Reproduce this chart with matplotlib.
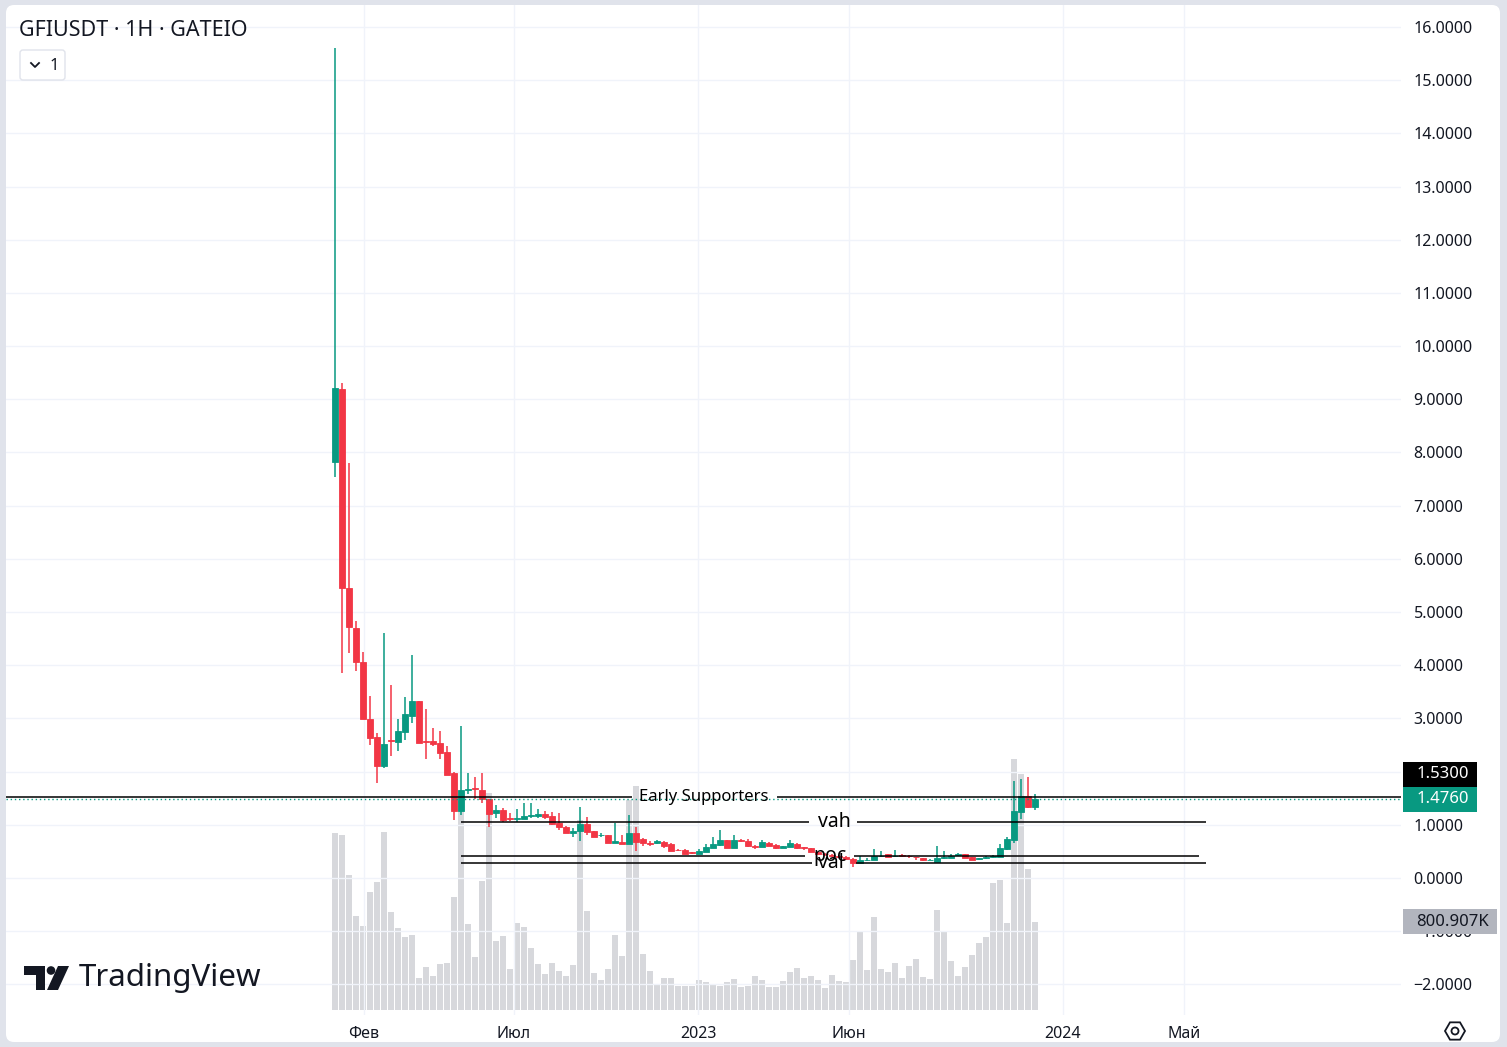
#!/usr/bin/env python3

import datetime as dt
import matplotlib
matplotlib.use("Agg")
import matplotlib.pyplot as plt
import matplotlib.dates as mdates
from matplotlib.patches import FancyBboxPatch, RegularPolygon, Circle, Polygon, Rectangle
import numpy as np

plt.rcParams['font.family'] = ['Noto Sans', 'DejaVu Sans']

# weekly candles, first week starting 2022-01-03
first_week = dt.date(2022, 1, 3)
opens = [7.82, 9.19, 5.45, 4.70, 4.06, 2.99, 2.65, 2.11, 2.60, 2.56,
         2.74, 3.05, 3.33, 2.58, 2.58, 2.54, 2.37, 1.97, 1.26, 1.66,
         1.69, 1.65, 1.49, 1.22, 1.28, 1.12, 1.10, 1.11, 1.17, 1.17,
         1.20, 1.17, 1.03, 0.95, 0.84, 0.88, 1.02, 0.88, 0.80, 0.81,
         0.65, 0.68, 0.63, 0.84, 0.73, 0.66, 0.66, 0.68, 0.64, 0.53,
         0.53, 0.48, 0.46, 0.49, 0.56, 0.62, 0.71, 0.56, 0.71, 0.70,
         0.61, 0.58, 0.66, 0.62, 0.56, 0.59, 0.64, 0.58, 0.56, 0.48,
         0.46, 0.44, 0.42, 0.39, 0.36, 0.29, 0.33, 0.33, 0.41, 0.45,
         0.41, 0.43, 0.42, 0.40, 0.37, 0.34, 0.31, 0.38, 0.38, 0.43,
         0.46, 0.39, 0.35, 0.37, 0.39, 0.40, 0.55, 0.71, 1.25, 1.54,
         1.34]
highs = [15.60, 9.31, 7.80, 4.83, 4.25, 3.42, 2.73, 4.61, 3.63, 2.99,
         3.40, 4.19, 3.33, 3.18, 2.82, 2.76, 2.48, 1.99, 2.86, 1.97,
         1.90, 1.97, 1.49, 1.37, 1.31, 1.22, 1.30, 1.41, 1.41, 1.30,
         1.26, 1.24, 1.22, 0.98, 0.94, 1.34, 1.14, 0.89, 0.85, 0.81,
         1.04, 0.81, 1.18, 0.95, 0.76, 0.69, 0.72, 0.69, 0.65, 0.55,
         0.54, 0.49, 0.55, 0.64, 0.77, 0.90, 0.71, 0.80, 0.74, 0.74,
         0.62, 0.72, 0.68, 0.64, 0.61, 0.72, 0.66, 0.58, 0.57, 0.49,
         0.47, 0.45, 0.44, 0.42, 0.37, 0.42, 0.38, 0.55, 0.50, 0.45,
         0.52, 0.45, 0.44, 0.40, 0.38, 0.35, 0.60, 0.51, 0.45, 0.47,
         0.46, 0.39, 0.38, 0.41, 0.44, 0.64, 0.78, 1.83, 1.86, 1.89,
         1.58]
lows = [7.54, 3.85, 4.23, 3.89, 2.99, 2.50, 1.79, 2.07, 2.29, 2.39,
        2.59, 2.91, 2.54, 2.24, 2.48, 2.24, 1.94, 1.09, 1.18, 1.58,
        1.49, 1.41, 0.96, 1.13, 1.05, 1.07, 1.05, 1.11, 1.13, 1.12,
        1.11, 1.00, 0.90, 0.84, 0.78, 0.70, 0.81, 0.77, 0.77, 0.65,
        0.65, 0.63, 0.63, 0.50, 0.60, 0.60, 0.64, 0.56, 0.51, 0.51,
        0.46, 0.46, 0.46, 0.49, 0.56, 0.60, 0.56, 0.56, 0.67, 0.58,
        0.54, 0.58, 0.60, 0.55, 0.56, 0.59, 0.54, 0.52, 0.49, 0.44,
        0.42, 0.39, 0.38, 0.34, 0.21, 0.28, 0.32, 0.33, 0.40, 0.40,
        0.39, 0.40, 0.38, 0.33, 0.32, 0.33, 0.31, 0.36, 0.37, 0.42,
        0.37, 0.34, 0.33, 0.36, 0.37, 0.40, 0.53, 0.65, 1.11, 1.32,
        1.27]
closes = [9.21, 5.45, 4.72, 4.06, 2.99, 2.63, 2.11, 2.52, 2.57, 2.76,
          3.08, 3.33, 2.54, 2.56, 2.52, 2.35, 1.94, 1.26, 1.65, 1.68,
          1.67, 1.49, 1.20, 1.28, 1.09, 1.11, 1.12, 1.17, 1.19, 1.20,
          1.15, 1.02, 0.96, 0.84, 0.89, 1.02, 0.86, 0.78, 0.81, 0.65,
          0.70, 0.63, 0.84, 0.68, 0.65, 0.63, 0.70, 0.60, 0.51, 0.52,
          0.46, 0.47, 0.51, 0.58, 0.64, 0.71, 0.56, 0.71, 0.70, 0.60,
          0.58, 0.68, 0.60, 0.57, 0.61, 0.65, 0.56, 0.57, 0.49, 0.46,
          0.45, 0.41, 0.40, 0.35, 0.29, 0.34, 0.34, 0.41, 0.42, 0.40,
          0.42, 0.42, 0.41, 0.39, 0.33, 0.34, 0.37, 0.39, 0.42, 0.46,
          0.38, 0.34, 0.37, 0.39, 0.41, 0.56, 0.73, 1.26, 1.54, 1.34,
          1.476]
# volume in thousands
volumes_k = [1613, 1595, 1229, 855, 764, 1076, 1167, 1622, 894, 749,
             667, 683, 294, 394, 312, 419, 430, 1031, 1900, 783,
             485, 1174, 1977, 628, 673, 373, 792, 755, 564, 419,
             328, 428, 355, 309, 410, 1729, 901, 337, 273, 373,
             683, 491, 1911, 2038, 510, 355, 237, 294, 294, 221,
             216, 221, 273, 255, 237, 221, 255, 282, 209, 221,
             309, 273, 209, 209, 264, 346, 382, 291, 309, 273,
             200, 319, 264, 255, 455, 710, 364, 846, 373, 346,
             428, 291, 400, 464, 300, 282, 910, 710, 446, 309,
             391, 500, 610, 664, 1156, 1183, 792, 2284, 2148, 1283,
             800.907]

level_names = ["Early Supporters", "vah", "poc", "val"]
level_values = [1.53, 1.047, 0.42, 0.28]
last_price = 1.476

price_ticks = list(range(-2, 17))
date_ticks = ["2022-02-01", "2022-07-01", "2023-01-01", "2023-06-01", "2024-01-01", "2024-05-01"]
date_tick_labels = ["Фев", "Июл", "2023", "Июн", "2024", "Май"]

GREEN = "#089981"
RED = "#f23645"
TXT = "#131722"
W, H = 1507, 1047


def _main():
    fig = plt.figure(figsize=(W / 100, H / 100), dpi=100, facecolor="#e0e3eb")

    # background panel
    bg = fig.add_axes([0, 0, 1, 1], zorder=0)
    bg.set_xlim(0, W)
    bg.set_ylim(H, 0)
    bg.axis("off")
    bg.add_patch(FancyBboxPatch((6, 5), 1494, 1037, boxstyle="round,pad=0,rounding_size=8",
                                fc="white", ec="none"))

    rect = [6 / W, (H - 1015) / H, (1401 - 6) / W, (1015 - 5) / H]
    axv = fig.add_axes(rect, zorder=1)
    ax = fig.add_axes(rect, zorder=2)
    for a in (axv, ax):
        a.patch.set_visible(False)
        for s in a.spines.values():
            s.set_visible(False)

    weeks = [first_week + dt.timedelta(weeks=i) for i in range(len(opens))]
    x = mdates.date2num(weeks)
    o, h, l, c = map(np.asarray, (opens, highs, lows, closes))
    colors = np.where(c >= o, GREEN, RED)

    x0 = x[0]
    xlim = (x0 - 329, x0 + 1066)

    # volume
    axv.bar(x, volumes_k, width=5.6, color="#d7d8dc", linewidth=0)
    axv.set_xlim(*xlim)
    axv.set_ylim(-45.5, 9146)
    axv.set_xticks([])
    axv.set_yticks([])

    # grid
    tick_nums = mdates.date2num([dt.date.fromisoformat(d) for d in date_ticks])
    for t in price_ticks:
        ax.axhline(t, color="#f0f3fa", lw=1, zorder=0)
    for t in tick_nums:
        ax.axvline(t, color="#f0f3fa", lw=1, zorder=0)

    # candles
    ax.vlines(x, l, h, colors=colors, lw=1.1, zorder=3)
    ax.bar(x, np.abs(c - o), bottom=np.minimum(o, c), width=5.2, color=colors,
           edgecolor=colors, linewidth=0.6, zorder=4)

    # levels
    ext_end = {"vah": x0 + 871, "poc": x0 + 864, "val": x0 + 871}
    gaps = {"Early Supporters": (297, 442, 369, 12),
            "vah": (474, 522, 499, 14),
            "poc": (470, 519, 495, 14),
            "val": (477, 521, 496, 14)}
    for name, val in zip(level_names, level_values):
        g0, g1, gc, fs = gaps[name]
        if name == "Early Supporters":
            start, end = xlim
        else:
            start, end = x[18], ext_end[name]
        ax.hlines(val, start, x0 + g0, color="black", lw=1.1, zorder=5)
        ax.hlines(val, x0 + g1, end, color="black", lw=1.1, zorder=5)
        ax.text(x0 + gc, val, name, ha="center", va="center", fontsize=fs,
                color="black", zorder=6)

    ax.axhline(last_price, color=GREEN, lw=1, ls=(0, (1, 2)), zorder=5)

    ax.set_xlim(*xlim)
    ax.set_ylim(-2.5757, 16.413)
    ax.yaxis.tick_right()
    ax.set_yticks(price_ticks)
    # the 2.0000 label sits under the 1.5300 tag, so leave it blank
    ax.set_yticklabels(["" if t == 2 else f"{t:.4f}".replace("-", "\u2212") for t in price_ticks])
    ax.tick_params(axis="y", length=0, pad=9, labelsize=11.5, labelcolor=TXT)
    ax.set_xticks(tick_nums)
    ax.set_xticklabels(date_tick_labels)
    ax.tick_params(axis="x", length=0, pad=8, labelsize=11.5, labelcolor=TXT)
    for lab in ax.get_xticklabels():
        if lab.get_text().isdigit():
            lab.set_fontweight("bold")

    # foreground decorations (pixel coordinates, top-left origin)
    fg = fig.add_axes([0, 0, 1, 1], zorder=3)
    fg.set_xlim(0, W)
    fg.set_ylim(H, 0)
    fg.axis("off")

    def py(axes, v):
        return H - axes.transData.transform((0, v))[1]

    # price tags on the right scale
    y_last = py(ax, last_price)
    tags = [
        (y_last - 25, 74, "black", "white", f"{level_values[0]:.4f}"),
        (y_last, 74, GREEN, "white", f"{last_price:.4f}"),
        (py(axv, volumes_k[-1]), 94, "#b2b5be", TXT, f"{volumes_k[-1]:.3f}K"),
    ]
    for yc, wd, fc, tc, txt in tags:
        fg.add_patch(Rectangle((1403, yc - 12.5), wd, 25, fc=fc, ec="none"))
        fg.text(1403 + wd - 8, yc, txt, ha="right", va="center", fontsize=12,
                color=tc, fontweight="bold" if tc == "white" else "normal")

    fg.text(19, 30, "GFIUSDT · 1H · GATEIO", fontsize=15.5, color=TXT, va="center", ha="left")
    fg.add_patch(FancyBboxPatch((20, 50), 45, 30, boxstyle="round,pad=0,rounding_size=3",
                                fc="white", ec="#e0e3eb", lw=1))
    fg.plot([31, 35, 39], [63, 67, 63], color=TXT, lw=1.3)
    fg.text(54, 66, "1", fontsize=12, color=TXT, ha="center", va="center")

    # TradingView logo
    fg.add_patch(Polygon([(24, 966), (45, 966), (45, 990), (36, 990), (36, 975), (24, 975)],
                         closed=True, fc=TXT, ec="none"))
    fg.add_patch(Circle((51, 970.5), 4.3, fc=TXT, ec="none"))
    fg.add_patch(Polygon([(58, 966), (69, 966), (58, 990), (47, 990)], closed=True, fc=TXT, ec="none"))
    fg.text(79, 978, "TradingView", fontsize=22.5, fontweight="bold", color=TXT, va="center", ha="left")

    # settings icon
    fg.add_patch(RegularPolygon((1455, 1031), 6, radius=10, orientation=np.pi / 6,
                                fc="none", ec=TXT, lw=1.3))
    fg.add_patch(Circle((1455, 1031), 3.5, fc="none", ec=TXT, lw=1.3))

    fig.savefig("out.png", dpi=100, facecolor=fig.get_facecolor())


if __name__ == '__main__':
    _main()
